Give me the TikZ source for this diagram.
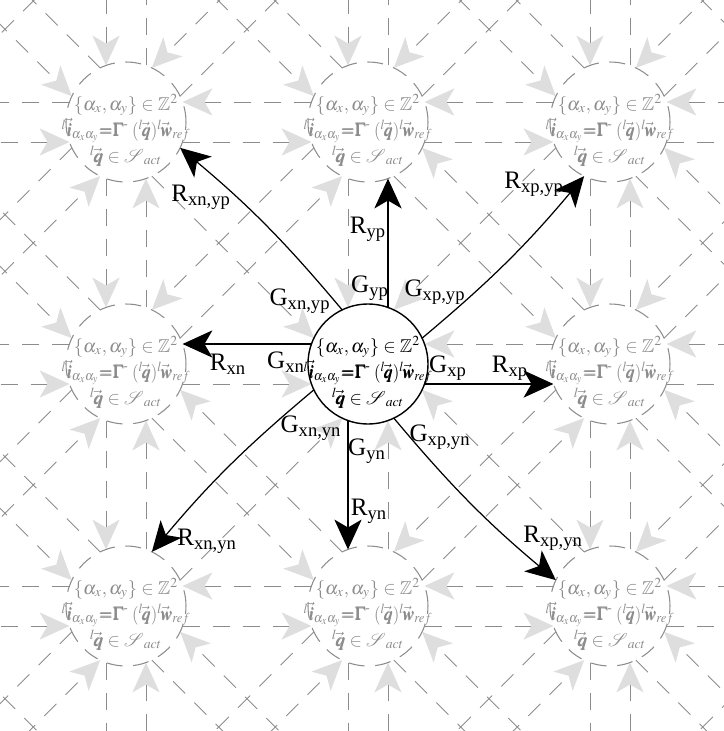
\documentclass[tikz,border=0pt]{standalone}
\usepackage{amsmath}
\usepackage{amssymb}
\usepackage{mathptmx}
\usepackage{bm}
\usepackage{fontspec}
\setmainfont{Liberation Serif}
\usetikzlibrary{calc,arrows.meta}

\newcommand{\cellmath}{%
  $\{\alpha_x,\alpha_y\}\in\mathbb{Z}^2$\\
  \scalebox{0.9}[1]{${}^{l}\vec{\bm{i}}_{\alpha_x\alpha_y}{\bm{=}}\bm{\Gamma}^{\text{-}}\;({}^{l}\!\vec{\bm{q}}){}^{l}\!\vec{\bm{w}}_{ref}$}\\
  ${}^{l}\!\vec{\bm{q}}\in\bm{\mathcal{S}}_{act}$}

\begin{document}
\begin{tikzpicture}[x=0.02cm,y=0.02cm,
    cell/.style={circle,minimum size=2.4cm,inner sep=0pt},
    ghostcell/.style={cell,draw=black!45,line width=0.6pt,dash pattern=on 9pt off 6pt},
    maincell/.style={cell,draw=black,line width=0.8pt},
    celltext/.style={align=center,font=\fontsize{10.6}{14.8}\selectfont,inner sep=0pt},
    ghostedge/.style={draw=black!45,line width=0.55pt,dash pattern=on 9.7pt off 7.4pt,
        -{Stealth[length=17pt,width=15.5pt,inset=4.5pt,black!13]}},
    flow/.style={draw=black,line width=0.7pt,-{Stealth[length=17pt,width=15.5pt,inset=4.5pt]}},
    lbl/.style={font=\fontsize{14.3}{16}\selectfont,inner sep=0pt}]
  \useasboundingbox (-368,-367) rectangle (356,364);
  \clip (-368,-367) rectangle (356,364);

  % lattice points, the visible 3x3 block is 1..3
  \foreach \i in {0,...,4}
    \foreach \j in {0,...,4}
      \coordinate (p-\i-\j) at ({242*(\i-2)},{242*(\j-2)});

  % gray links into every cell
  \foreach \i in {0,...,4}
    \foreach \j in {0,...,4}
      \foreach \dx/\dy in {1/0,1/1,0/1,-1/1,-1/0,-1/-1,0/-1,1/-1}{
        \pgfmathtruncatemacro\ti{\i+\dx}
        \pgfmathtruncatemacro\tj{\j+\dy}
        \pgfmathtruncatemacro\keep{(\ti>=0)*(\ti<=4)*(\tj>=0)*(\tj<=4)*(1-(\i==2)*(\j==2))}
        \ifnum\keep=1
          \draw[ghostedge] ($(p-\i-\j)!1.2cm!-19.47:(p-\ti-\tj)$) -- ($(p-\ti-\tj)!1.2cm!19.47:(p-\i-\j)$);
        \fi
      }

  % neighbour cells
  \foreach \i in {1,2,3}
    \foreach \j in {1,2,3}{
      \pgfmathtruncatemacro\keep{1-(\i==2)*(\j==2)}
      \ifnum\keep=1
        \node[ghostcell] (cell-\i-\j) at (p-\i-\j) {};
        \node[celltext,text=black!45] (txt-\i-\j) at ([yshift=-0.16cm]p-\i-\j) {\cellmath};
      \fi
    }

  % centre cell
  \node[maincell] (cell-2-2) at (p-2-2) {};
  \node[celltext] (txt-2-2) at ([yshift=-0.16cm]p-2-2) {\cellmath};

  % outgoing links of the centre cell
  \foreach \dx/\dy/\bend in {1/0/0,1/1/5,0/1/0,-1/1/5,-1/0/0,-1/-1/5,0/-1/0,1/-1/5}{
    \pgfmathtruncatemacro\ti{2+\dx}
    \pgfmathtruncatemacro\tj{2+\dy}
    \draw[flow] ($(p-2-2)!1.2cm!-19.47:(p-\ti-\tj)$) to[bend right=\bend] ($(p-\ti-\tj)!1.2cm!19.47:(p-2-2)$);
  }

  % labels
  \node[lbl] (g-xp)   at (80,-4)     {G\textsubscript{xp}};
  \node[lbl] (r-xp)   at (142,-4)    {R\textsubscript{xp}};
  \node[lbl] (g-xn)   at (-82,2)     {G\textsubscript{xn}};
  \node[lbl] (r-xn)   at (-140,0)    {R\textsubscript{xn}};
  \node[lbl] (g-yp)   at (2,76)      {G\textsubscript{yp}};
  \node[lbl] (r-yp)   at (0,135)     {R\textsubscript{yp}};
  \node[lbl] (g-yn)   at (-1,-87)    {G\textsubscript{yn}};
  \node[lbl] (r-yn)   at (1,-147)    {R\textsubscript{yn}};
  \node[lbl] (g-xpyp) at (67,72)     {G\textsubscript{xp,yp}};
  \node[lbl] (r-xpyp) at (166,180)   {R\textsubscript{xp,yp}};
  \node[lbl] (g-xnyp) at (-68,63)    {G\textsubscript{xn,yp}};
  \node[lbl] (r-xnyp) at (-167,167)  {R\textsubscript{xn,yp}};
  \node[lbl] (g-xnyn) at (-57,-64)   {G\textsubscript{xn,yn}};
  \node[lbl] (r-xnyn) at (-161,-177) {R\textsubscript{xn,yn}};
  \node[lbl] (g-xpyn) at (72,-73)    {G\textsubscript{xp,yn}};
  \node[lbl] (r-xpyn) at (185,-174)  {R\textsubscript{xp,yn}};
\end{tikzpicture}
\end{document}
